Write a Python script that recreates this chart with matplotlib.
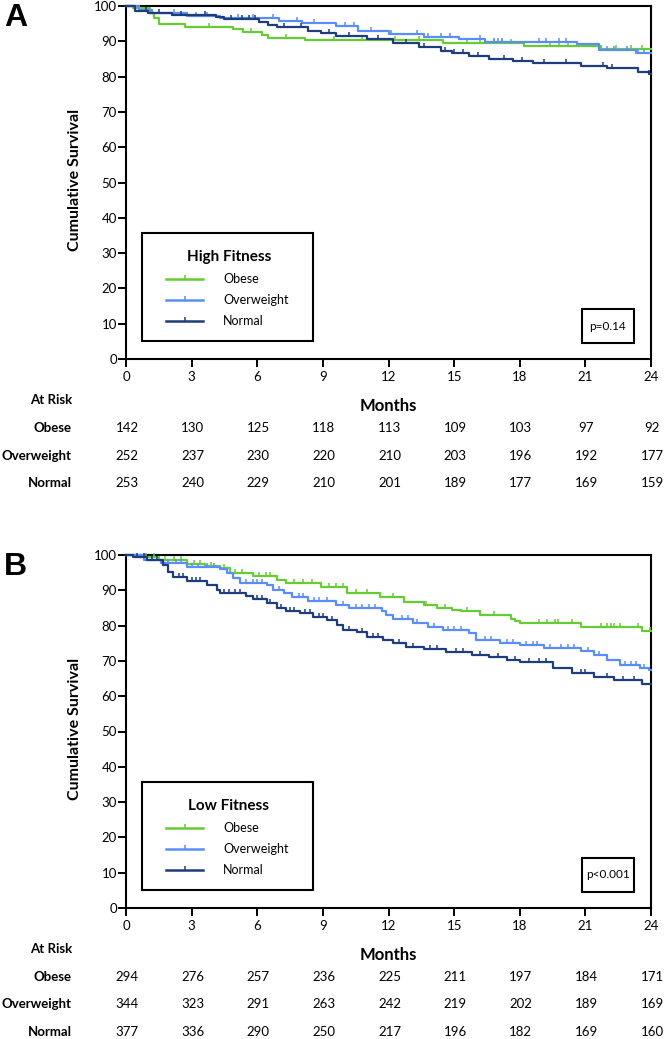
import matplotlib.pyplot as plt
from matplotlib.patches import Rectangle
from matplotlib.lines import Line2D
import numpy as np

plt.rcParams['font.family'] = ['Lato', 'DejaVu Sans']

W, H = 665, 1039

months = [0, 3, 6, 9, 12, 15, 18, 21, 24]
groups = ['Obese', 'Overweight', 'Normal']
colors = ['#66CC33', '#5A8DFA', '#1F3C7D']

# panel A - high fitness
green_A_t = [0, 0.3, 1.1, 1.3, 1.5, 2.7, 4.9, 5.35, 6.2, 6.5, 8.2, 14.5, 18.2, 21.7, 24]
green_A_s = [100, 99.3, 98.0, 96.5, 94.9, 94.1, 93.4, 92.5, 91.8, 91.0, 90.3, 89.6, 88.7, 87.8, 87.8]
green_A_c = [3.8, 5.7, 7.3, 9.5, 10.8, 12.3, 13.4, 15.6, 16.2, 16.8, 17.2, 17.6, 19.4, 19.8, 20.2,
             22.4, 23.1, 23.6]
blue_A_t = [0, 0.6, 1.2, 2.8, 4.3, 7.0, 8.05, 9.6, 10.6, 12.0, 13.6, 15.2, 16.4, 20.6, 21.6, 23.3, 24]
blue_A_s = [100, 98.9, 97.9, 97.3, 96.5, 95.75, 95.1, 94.3, 92.8, 92.1, 91.3, 90.6, 89.9, 89.2, 87.4,
            86.6, 86.6]
blue_A_c = [0.6, 2.2, 2.8, 3.2, 3.7, 5.1, 5.8, 6.7, 7.8, 8.6, 10.0, 10.4, 11.2, 12.1, 13.3, 13.8, 14.4,
            14.8, 16.2, 16.8, 17.0, 17.2, 18.9, 19.2, 19.8, 20.1, 22.0, 22.3, 22.9, 23.4, 23.7]
navy_A_t = [0, 0.4, 1.0, 2.1, 4.1, 4.5, 6.1, 6.5, 6.9, 8.3, 8.9, 9.6, 11.0, 12.2, 13.4, 14.4, 14.9,
            15.7, 16.6, 17.7, 18.6, 20.8, 22.0, 23.4, 23.9, 24]
navy_A_s = [100, 98.6, 97.9, 97.4, 96.9, 96.4, 95.4, 94.7, 94.0, 92.9, 92.3, 91.6, 90.6, 89.5, 88.5,
            87.3, 86.6, 85.7, 85.0, 84.3, 83.8, 83.1, 82.4, 81.4, 80.8, 80.8]
navy_A_c = [0.9, 1.5, 2.5, 3.6, 4.8, 5.3, 5.6, 5.9, 7.2, 8.0, 9.3, 10.2, 11.5, 12.8, 13.6, 14.6, 15.0,
            15.4, 16.1, 17.3, 18.1, 19.1, 20.1, 21.8, 22.2, 23.9]
risk_A = [[142, 130, 125, 118, 113, 109, 103, 97, 92],
          [252, 237, 230, 220, 210, 203, 196, 192, 177],
          [253, 240, 229, 210, 201, 189, 177, 169, 159]]

# panel B - low fitness
green_B_t = [0, 0.6, 1.5, 2.8, 3.6, 4.3, 4.75, 5.8, 6.9, 7.3, 8.9, 10.1, 11.6, 12.7, 13.6, 14.2, 14.9,
             15.3, 16.2, 17.6, 17.8, 18.0, 20.8, 23.6, 24]
green_B_s = [100, 99.3, 98.5, 97.5, 96.8, 96.2, 95.0, 94.1, 92.9, 92.2, 90.8, 89.2, 88.1, 86.8, 85.8,
             85.1, 84.4, 84.0, 83.0, 82.0, 81.2, 80.6, 79.7, 78.4, 78.4]
green_B_c = [0.9, 1.3, 1.8, 2.2, 2.5, 3.1, 3.4, 3.9, 4.5, 5.0, 5.3, 6.1, 6.4, 6.6, 7.7, 8.1, 8.5, 9.3,
             9.6, 9.9, 10.5, 11.0, 12.2, 13.7, 14.6, 15.6, 16.8, 18.9, 19.25, 19.6, 19.75, 20.4, 21.7,
             22.0, 22.15, 22.3, 22.6, 23.4, 23.95]
blue_B_t = [0, 0.8, 1.6, 2.8, 4.3, 4.6, 4.9, 5.2, 6.45, 6.7, 7.2, 7.6, 8.3, 9.6, 10.2, 11.7, 11.9, 12.2,
            13.1, 13.8, 14.5, 15.7, 16.0, 17.1, 18.0, 19.1, 20.8, 21.4, 22.0, 22.6, 23.5, 23.9, 24]
blue_B_s = [100, 98.6, 97.6, 96.7, 96.0, 94.8, 93.4, 92.2, 91.5, 90.1, 89.1, 88.2, 87.1, 85.8, 84.9,
            84.0, 83.0, 81.8, 80.6, 79.7, 78.8, 77.8, 75.9, 75.2, 74.5, 73.6, 72.9, 71.7, 70.3, 68.8,
            68.0, 67.3, 67.3]
blue_B_c = [1.2, 1.9, 2.3, 2.5, 3.0, 3.3, 3.7, 4.0, 5.5, 5.8, 6.0, 6.2, 7.0, 7.9, 8.1, 8.6, 8.8, 9.2,
            9.9, 10.5, 10.8, 11.1, 11.4, 12.6, 12.9, 13.3, 14.1, 14.7, 15.0, 15.3, 16.4, 16.7, 17.4,
            17.7, 18.3, 18.6, 18.8, 19.4, 19.9, 20.2, 20.5, 21.1, 21.6, 22.8, 23.1, 23.3, 23.7]
navy_B_t = [0, 0.3, 0.95, 1.7, 1.9, 2.15, 2.8, 3.7, 4.15, 4.3, 5.5, 5.8, 6.45, 6.9, 7.3, 7.95, 8.55,
            9.2, 9.65, 9.9, 10.55, 11.0, 11.75, 12.2, 12.8, 13.6, 14.65, 15.8, 16.6, 17.4, 18.0, 19.5,
            20.4, 21.4, 22.3, 23.6, 24]
navy_B_s = [100, 99.3, 98.5, 97.2, 95.3, 93.9, 92.7, 91.5, 90.1, 89.1, 88.4, 87.4, 86.3, 84.9, 84.2,
            83.5, 82.5, 81.6, 80.2, 78.8, 78.3, 76.9, 75.9, 75.0, 74.0, 73.3, 72.6, 71.7, 71.0, 70.3,
            69.6, 67.9, 66.5, 65.3, 64.6, 63.4, 63.4]
navy_B_c = [0.5, 0.8, 1.2, 1.4, 2.4, 2.6, 3.0, 3.2, 3.4, 4.5, 4.7, 5.0, 5.2, 6.0, 6.2, 6.6, 7.1, 7.5,
            7.7, 8.2, 8.4, 8.8, 9.0, 9.4, 10.2, 10.8, 11.3, 11.5, 12.5, 13.1, 13.9, 14.2, 15.1, 15.4,
            16.2, 17.0, 17.8, 18.4, 18.9, 19.2, 20.8, 21.0, 22.0, 22.7, 23.2]
risk_B = [[294, 276, 257, 236, 225, 211, 197, 184, 171],
          [344, 323, 291, 263, 242, 219, 202, 189, 169],
          [377, 336, 290, 250, 217, 196, 182, 169, 160]]


def fx(px):
    return px / W


def fy(py):
    return 1 - py / H


def km(ax, t, s, cens, color):
    t = np.array(t)
    s = np.array(s)
    ax.step(t, s, where='post', color=color, lw=1.6, zorder=3, clip_on=False)
    idx = np.searchsorted(t, cens, side='right') - 1
    ax.plot(cens, s[idx], ls='none', marker=2, ms=3, mew=1.1, color=color, zorder=3, clip_on=False)


fig = plt.figure(figsize=(W / 100, H / 100), dpi=100)

panels = [
    dict(top=6, letter='A', title='High Fitness', p='p=0.14', risk=risk_A,
         curves=[(green_A_t, green_A_s, green_A_c), (blue_A_t, blue_A_s, blue_A_c),
                 (navy_A_t, navy_A_s, navy_A_c)]),
    dict(top=555, letter='B', title='Low Fitness', p='p<0.001', risk=risk_B,
         curves=[(green_B_t, green_B_s, green_B_c), (blue_B_t, blue_B_s, blue_B_c),
                 (navy_B_t, navy_B_s, navy_B_c)]),
]

left, right, axh = 126, 651, 353
for pan in panels:
    top = pan['top']
    bot = top + axh
    ax = fig.add_axes([fx(left), fy(bot), (right - left) / W, axh / H])
    for (t, s, c), col in zip(pan['curves'], colors):
        km(ax, t, s, c, col)
    ax.set_xlim(0, 24)
    ax.set_ylim(0, 100)
    ax.set_xticks(months)
    ax.set_yticks(range(0, 101, 10))
    ax.tick_params(direction='out', length=5.5, width=1.4, labelsize=9.5)
    ax.tick_params(axis='y', pad=1)
    ax.tick_params(axis='x', pad=3)
    for sp in ax.spines.values():
        sp.set_linewidth(1.5)

    fig.text(fx(75), fy(top + 174), 'Cumulative Survival', rotation=90, ha='center', va='center',
             fontsize=11.5, fontweight='bold')
    fig.text(fx(4), fy(top + 12), pan['letter'], fontsize=23, fontweight='bold',
             family='Liberation Sans', ha='left', va='center')

    # legend box
    lx0, ly0 = 142, top + 227
    fig.add_artist(Rectangle((fx(lx0), fy(ly0 + 108)), 171 / W, 108 / H, fill=False, lw=1.5,
                             ec='black', transform=fig.transFigure))
    fig.text(fx(229), fy(ly0 + 24), pan['title'], ha='center', va='center', fontsize=11,
             fontweight='bold')
    for i, (g, col) in enumerate(zip(groups, colors)):
        yy = fy(ly0 + 46 + 21 * i)
        fig.add_artist(Line2D([fx(166), fx(203)], [yy, yy], color=col, lw=1.8))
        fig.add_artist(Line2D([fx(184.5)], [yy], color=col, marker=2, ms=3, mew=1.1))
        fig.text(fx(223), yy, g, ha='left', va='center', fontsize=9)

    # p value box
    fig.add_artist(Rectangle((fx(582), fy(top + 337)), 52 / W, 34 / H, fill=False, lw=1.5,
                             ec='black', transform=fig.transFigure))
    fig.text(fx(608), fy(top + 320), pan['p'], ha='center', va='center', fontsize=8.5)

    # at risk table
    fig.text(fx(72), fy(bot + 41), 'At Risk', ha='right', va='center', fontsize=9.5,
             fontweight='bold')
    fig.text(fx((left + right) / 2), fy(bot + 47), 'Months', ha='center', va='center', fontsize=12,
             fontweight='bold')
    for i, g in enumerate(groups):
        yy = fy(bot + 69 + 27.5 * i)
        fig.text(fx(72), yy, g, ha='right', va='center', fontsize=9.5, fontweight='bold')
        for m, n in zip(months, pan['risk'][i]):
            xpix = left + m * (right - left) / 24
            fig.text(fx(xpix + 1), yy, str(n), ha='center', va='center', fontsize=9.5)

fig.savefig('out.png', dpi=100)
